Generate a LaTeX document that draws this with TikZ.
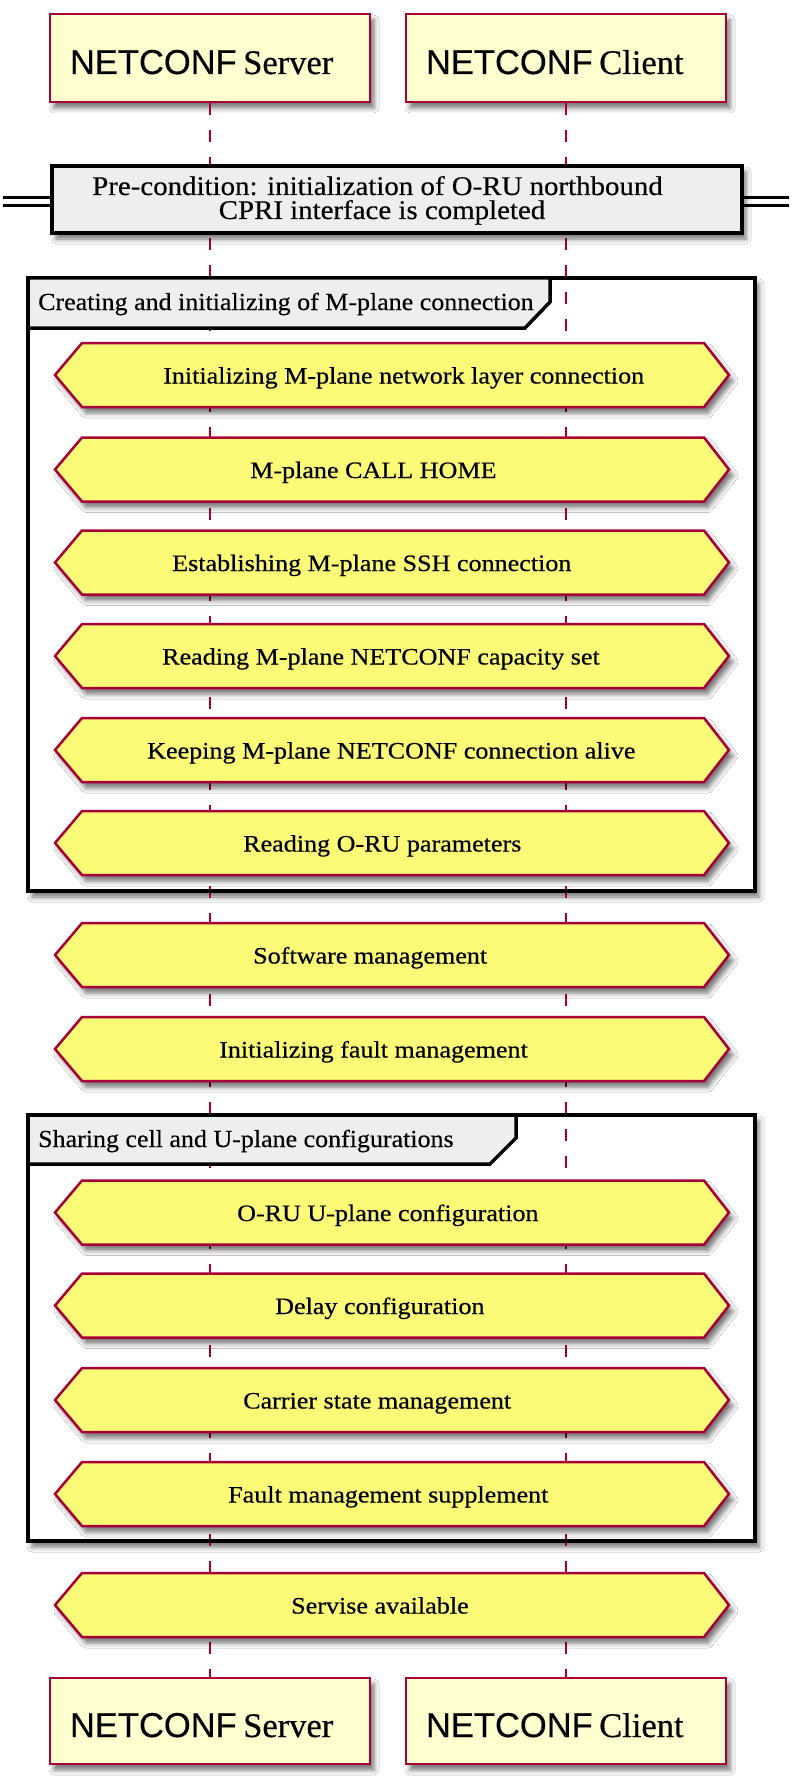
\documentclass[tikz,border=0pt]{standalone}
\usepackage{fontspec}
\setmainfont{Liberation Serif}
\newfontfamily\hexfont[FakeStretch=1.11,FakeBold=0.5]{Liberation Serif}
\newfontfamily\grpfont[FakeStretch=1.06,FakeBold=0.4]{Liberation Serif}
\newfontfamily\pcfont[FakeStretch=1.07,FakeBold=0.4]{Liberation Serif}
\newfontfamily\actserif[FakeBold=0.4]{Liberation Serif}
\newfontfamily\actsans[FakeBold=0.4]{Liberation Sans}
\usetikzlibrary{shadows.blur}
\definecolor{umlred}{HTML}{A80036}
\definecolor{actfill}{HTML}{FEFECE}
\definecolor{hexfill}{HTML}{FBFB77}
\definecolor{grpfill}{HTML}{EEEEEE}
\tikzset{
  softshadow/.style={blur shadow={shadow xshift=4pt, shadow yshift=-6pt, shadow blur radius=5pt, shadow opacity=55}},
  actorbox/.style={draw=umlred, line width=2.5pt, fill=actfill, softshadow, minimum width=320pt,
     text width=280pt, align=left, text height=32pt, text depth=0pt, inner sep=0pt,
     font=\actserif\fontsize{34.5}{40}\selectfont},
  lifeline/.style={draw=umlred, line width=2.5pt, dash pattern=on 12pt off 15pt},
  hexshape/.style={draw=umlred, line width=2.5pt, fill=hexfill, softshadow},
  hextext/.style={inner sep=0pt, font=\hexfont\fontsize{23.5}{26}\selectfont},
  grpframe/.style={draw=black, line width=3.5pt},
  grphead/.style={draw=black, line width=3.5pt, fill=grpfill},
  grptext/.style={inner sep=0pt, font=\grpfont\fontsize{24.5}{26}\selectfont},
  pctext/.style={inner sep=0pt, font=\pcfont\fontsize{27}{24}\selectfont},
}
\begin{document}
\begin{tikzpicture}[x=1pt,y=-1pt]
\useasboundingbox (0,0) rectangle (792,1784);
\fill[white] (0,0) rectangle (792,1784);

% group backgrounds (white, with shadow)
\path[fill=white, softshadow] (28,278) rectangle (755,891);
\path[fill=white, softshadow] (28,1115) rectangle (755,1541);

% actors
\node[actorbox, minimum height=88pt] (srvtop) at (210,58) {{\actsans NETCONF}\kern-5pt{} Server};
\node[actorbox, minimum height=88pt] (clitop) at (566,58) {{\actsans NETCONF}\kern-5pt{} Client};
\node[actorbox, minimum height=86pt] (srvbot) at (210,1721) {{\actsans NETCONF}\kern-5pt{} Server};
\node[actorbox, minimum height=86pt] (clibot) at (566,1721) {{\actsans NETCONF}\kern-5pt{} Client};

% lifelines
\draw[lifeline] (srvtop.south) -- (srvbot.north);
\draw[lifeline] (clitop.south) -- (clibot.north);

% pre-condition divider
\draw[black, line width=3pt] (3,197.5) -- (789,197.5);
\draw[black, line width=3pt] (3,205.5) -- (789,205.5);
\path[fill=grpfill, draw=black, line width=4pt, softshadow] (52,166) rectangle (742,233);
\node[pctext, anchor=base] (pc1) at (377.5,195) {Pre-condition: initialization of O-RU northbound};
\node[pctext, anchor=base] (pc2) at (382,219) {CPRI interface is completed};

% hexagons
\foreach \cy/\tx/\lab [count=\i] in {
  375/163/Initializing M-plane network layer connection,
  469.5/250/M-plane CALL HOME,
  562.5/172/Establishing M-plane SSH connection,
  656/162/Reading M-plane NETCONF capacity set,
  750/147/Keeping M-plane NETCONF connection alive,
  843/243/Reading O-RU parameters,
  955/253/Software management,
  1049/219/Initializing fault management,
  1212.5/237/O-RU U-plane configuration,
  1305.5/275/Delay configuration,
  1400/243/Carrier state management,
  1494/228/Fault management supplement,
  1605/291/Servise available}
{
  \path[hexshape] (55,\cy) -- (82,\cy-32) -- (704,\cy-32) -- (729,\cy) -- (704,\cy+32) -- (82,\cy+32) -- cycle;
  \node[hextext, anchor=base west] (hx\i) at (\tx,\cy+8.5) {\lab};
}

% group frames and headers
\draw[grpframe] (28,278) rectangle (755,891);
\draw[grphead] (28,278) -- (550,278) -- (550,302) -- (525,328) -- (28,328) -- cycle;
\node[grptext, anchor=base west] (g1) at (38,310) {Creating and initializing of M-plane connection};

\draw[grpframe] (28,1115) rectangle (755,1541);
\draw[grphead] (28,1115) -- (516,1115) -- (516,1138) -- (490,1164) -- (28,1164) -- cycle;
\node[grptext, anchor=base west] (g2) at (38,1147) {Sharing cell and U-plane configurations};
\end{tikzpicture}
\end{document}
